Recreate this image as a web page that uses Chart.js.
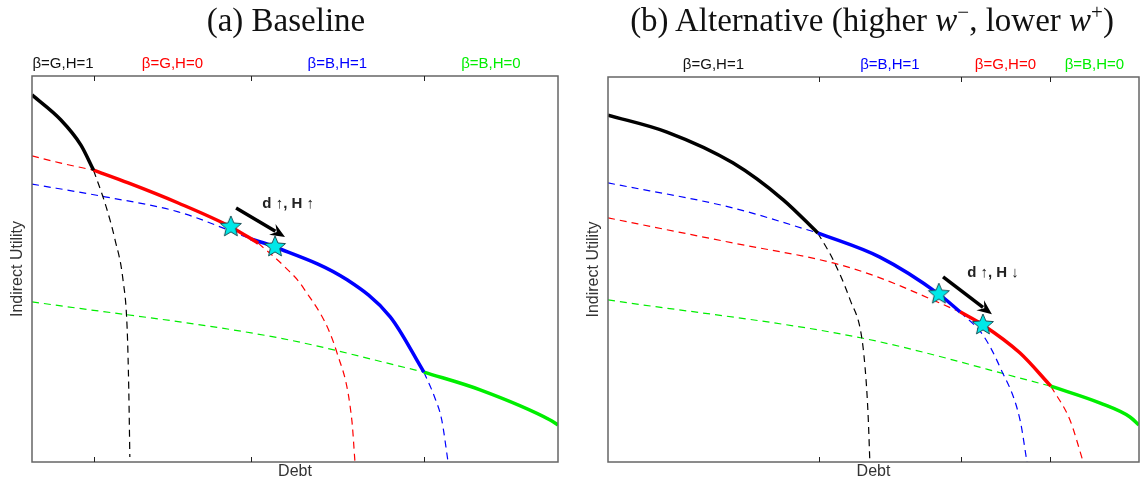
<!DOCTYPE html>
<html>
<head>
<meta charset="utf-8">
<script src="https://cdn.jsdelivr.net/npm/chart.js@4.4.0/dist/chart.umd.min.js"></script>
<style>
body{margin:0;background:#fff;width:1142px;height:489px;overflow:hidden;position:relative}
.box{position:absolute;top:0;width:572px;height:489px}
.title{position:absolute;top:0;height:40px;line-height:40px;font-family:"Liberation Serif",serif;font-size:33px;color:#111;text-align:center;z-index:2;white-space:nowrap}
.title sup{font-size:21px;line-height:0}
</style>
</head>
<body>
<div class="box" style="left:0"><canvas id="chartA" width="572" height="489"></canvas></div>
<div class="box" style="left:570px"><canvas id="chartB" width="572" height="489"></canvas></div>
<div class="title" style="left:0;width:572px">(a) Baseline</div>
<div class="title" style="left:586px;width:572px">(b) Alternative (higher <i>w</i><sup>−</sup>, lower <i>w</i><sup>+</sup>)</div>
<script>
// ---- (a) Baseline ----
const aBoundaries = [11.8, 41.6, 74.5];
const aRegionLabels = ['β=G,H=1', 'β=G,H=0', 'β=B,H=1', 'β=B,H=0'];
const aRegionColors = ['#111', '#ff0000', '#0000ff', '#00ee00'];

const aBlackSolidX = [0, 5.5, 9.3, 11.7];
const aBlackSolidY = [95.1, 88.6, 82.1, 75.6];
const aBlackDashX = [11.7, 14.1, 15.8, 17.3, 18.1, 18.4, 18.6];
const aBlackDashY = [75.6, 66.1, 57.5, 47.2, 34.2, 18.7, 1.3];
const aRedDashX1 = [0, 5.3, 11.7];
const aRedDashY1 = [79.3, 77.5, 75.6];
const aRedSolidX = [11.7, 18.3, 27.8, 37.8, 43.0];
const aRedSolidY = [75.6, 72.3, 67.1, 60.9, 56.7];
const aRedDashX2 = [43.0, 48.1, 51.5, 58.0, 60.8, 61.4];
const aRedDashY2 = [56.7, 50.5, 45.3, 28.2, 10.9, 0];
const aBlueDashX1 = [0, 13.9, 27.8, 41.6];
const aBlueDashY1 = [72.0, 68.7, 64.8, 57.8];
const aBlueSolidX = [41.6, 46.2, 59.9, 68.1, 74.5];
const aBlueSolidY = [57.8, 55.7, 47.2, 37.6, 23.3];
const aBlueDashX2 = [74.5, 76.6, 77.9, 79.1];
const aBlueDashY2 = [23.3, 16.6, 10.9, 0];
const aGreenDashX = [0, 47.1, 74.5];
const aGreenDashY = [41.5, 32.1, 23.3];
const aGreenSolidX = [74.5, 85.2, 98.5, 100];
const aGreenSolidY = [23.3, 18.7, 10.9, 9.6];
const aStarX = [37.8, 46.2];
const aStarY = [60.9, 55.7];
const aArrowX = [38.8, 48.1];
const aArrowY = [65.8, 58.3];
const aNote = 'd ↑, H ↑';
const aNoteAt = [48.7, 66.8];

// ---- (b) Alternative ----
const bBoundaries = [39.7, 66.5, 83.2];
const bRegionLabels = ['β=G,H=1', 'β=B,H=1', 'β=G,H=0', 'β=B,H=0'];
const bRegionColors = ['#111', '#0000ff', '#ff0000', '#00ee00'];

const bBlackSolidX = [0, 11.1, 23.5, 33.0, 39.5];
const bBlackSolidY = [90.1, 85.7, 77.7, 68.1, 59.5];
const bBlackDashX = [39.5, 42.4, 45.6, 47.8, 48.6, 49.0, 49.3];
const bBlackDashY = [59.5, 52.5, 42.1, 32.2, 21.3, 11.7, 0.5];
const bBlueDashX1 = [0, 23.5, 39.5];
const bBlueDashY1 = [72.5, 66.0, 59.5];
const bBlueSolidX = [39.5, 51.2, 62.3, 66.3];
const bBlueSolidY = [59.5, 53.2, 43.6, 39.0];
const bBlueDashX2 = [66.3, 70.6, 73.8, 77.6, 78.9];
const bBlueDashY2 = [39.0, 33.0, 24.7, 10.9, 0];
const bRedDashX1 = [0, 23.5, 42.4, 50.7, 66.3];
const bRedDashY1 = [63.4, 56.9, 51.7, 48.1, 39.0];
const bRedSolidX = [66.3, 70.6, 77.6, 83.4];
const bRedSolidY = [39.0, 35.6, 28.3, 19.7];
const bRedDashX2 = [83.4, 87.0, 89.5];
const bRedDashY2 = [19.7, 10.9, 0];
const bGreenDashX = [0, 47.8, 83.4];
const bGreenDashY = [42.1, 32.2, 19.7];
const bGreenSolidX = [83.4, 92.7, 98.3, 100];
const bGreenSolidY = [19.7, 15.3, 11.7, 9.6];
const bStarX = [62.3, 70.6];
const bStarY = [43.6, 35.6];
const bArrowX = [63.1, 72.3];
const bArrowY = [48.1, 38.4];
const bNote = 'd ↑, H ↓';
const bNoteAt = [72.5, 49.1];

function pts(xs, ys) {
  return xs.map((x, i) => ({x: x, y: ys[i]}));
}

function solid(xs, ys, color) {
  return {data: pts(xs, ys), borderColor: color, borderWidth: 3.5, pointRadius: 0, order: 2,
    cubicInterpolationMode: 'monotone', fill: false};
}
function dashed(xs, ys, color) {
  return {data: pts(xs, ys), borderColor: color, borderWidth: 1.2, borderDash: [7, 5], pointRadius: 0, order: 3,
    cubicInterpolationMode: 'monotone', fill: false};
}

// filled five point star used as point style
function makeStar(r) {
  const c = document.createElement('canvas');
  c.width = c.height = 2 * r + 4;
  const g = c.getContext('2d');
  const cx = r + 2, cy = r + 2;
  g.beginPath();
  for (let i = 0; i < 10; i++) {
    const rr = i % 2 === 0 ? r : r * 0.45;
    const a = -Math.PI / 2 + i * Math.PI / 5;
    g.lineTo(cx + rr * Math.cos(a), cy + rr * Math.sin(a));
  }
  g.closePath();
  g.fillStyle = '#00e8e8';
  g.fill();
  g.strokeStyle = '#1b4f55';
  g.lineWidth = 1;
  g.stroke();
  return c;
}
const starImg = makeStar(11);

function framePlugin(bounds, arrowX, arrowY, note, noteAt) {
  return {
    id: 'frame',
    afterDraw(chart) {
      const ctx = chart.ctx;
      const a = chart.chartArea;
      const xs = chart.scales.x, ys = chart.scales.y;
      ctx.save();
      // box
      ctx.strokeStyle = '#666';
      ctx.lineWidth = 1.5;
      ctx.strokeRect(a.left, a.top, a.right - a.left, a.bottom - a.top);
      // inward ticks at region boundaries
      ctx.strokeStyle = '#222';
      ctx.lineWidth = 1;
      bounds.forEach(b => {
        const px = Math.round(xs.getPixelForValue(b)) + 0.5;
        ctx.beginPath();
        ctx.moveTo(px, a.bottom); ctx.lineTo(px, a.bottom - 5);
        ctx.moveTo(px, a.top); ctx.lineTo(px, a.top + 5);
        ctx.stroke();
      });
      // arrow
      const x0 = xs.getPixelForValue(arrowX[0]), y0 = ys.getPixelForValue(arrowY[0]);
      const x1 = xs.getPixelForValue(arrowX[1]), y1 = ys.getPixelForValue(arrowY[1]);
      const ang = Math.atan2(y1 - y0, x1 - x0);
      const hl = 16;
      ctx.strokeStyle = '#000';
      ctx.fillStyle = '#000';
      ctx.lineWidth = 3.5;
      ctx.beginPath();
      ctx.moveTo(x0, y0);
      ctx.lineTo(x1 - hl * 0.7 * Math.cos(ang), y1 - hl * 0.7 * Math.sin(ang));
      ctx.stroke();
      ctx.beginPath();
      ctx.moveTo(x1, y1);
      ctx.lineTo(x1 - hl * Math.cos(ang - 0.4), y1 - hl * Math.sin(ang - 0.4));
      ctx.lineTo(x1 - hl * 0.6 * Math.cos(ang), y1 - hl * 0.6 * Math.sin(ang));
      ctx.lineTo(x1 - hl * Math.cos(ang + 0.4), y1 - hl * Math.sin(ang + 0.4));
      ctx.closePath();
      ctx.fill();
      // note
      ctx.font = 'bold 15px "Liberation Sans", Arial, sans-serif';
      ctx.fillStyle = '#222';
      ctx.textAlign = 'center';
      ctx.textBaseline = 'middle';
      ctx.fillText(note, xs.getPixelForValue(noteAt[0]), ys.getPixelForValue(noteAt[1]));
      ctx.restore();
    }
  };
}

function buildChart(id, datasets, bounds, labels, colors, pad, yWidth, yTitlePad, arrowX, arrowY, note, noteAt) {
  const centers = [];
  const edges = [0].concat(bounds, [100]);
  for (let i = 0; i < labels.length; i++) centers.push((edges[i] + edges[i + 1]) / 2);
  const axisFont = {family: '"Liberation Sans", Arial, sans-serif', size: 16};
  return new Chart(document.getElementById(id), {
    type: 'line',
    data: {datasets: datasets},
    options: {
      responsive: false,
      animation: false,
      devicePixelRatio: 1,
      layout: {padding: pad, autoPadding: false},
      plugins: {legend: {display: false}, tooltip: {enabled: false}},
      scales: {
        x: {
          type: 'linear', min: 0, max: 100,
          ticks: {display: false},
          grid: {display: false, drawTicks: false},
          border: {display: false},
          title: {display: true, text: 'Debt', color: '#333', font: axisFont, padding: {top: 0, bottom: 8}},
          afterFit: s => { s.height = 27; s.paddingLeft = 0; s.paddingRight = 0; }
        },
        xTop: {
          type: 'linear', position: 'top', min: 0, max: 100,
          afterBuildTicks: s => { s.ticks = centers.map(v => ({value: v})); },
          ticks: {
            autoSkip: false, maxRotation: 0, padding: 3,
            callback: (v, i) => labels[i],
            color: c => colors[c.index],
            font: {family: '"Liberation Sans", Arial, sans-serif', size: 15}
          },
          grid: {display: false, drawTicks: false},
          border: {display: false},
          afterFit: s => { s.height = 30; s.paddingLeft = 0; s.paddingRight = 0; }
        },
        y: {
          type: 'linear', min: 0, max: 100,
          ticks: {display: false},
          grid: {display: false, drawTicks: false},
          border: {display: false},
          title: {display: true, text: 'Indirect Utility', color: '#333', font: axisFont, padding: {top: yTitlePad, bottom: 0}},
          afterFit: s => { s.width = yWidth; }
        }
      }
    },
    plugins: [framePlugin(bounds, arrowX, arrowY, note, noteAt)]
  });
}

const starsA = {data: pts(aStarX, aStarY), showLine: false, pointStyle: starImg, pointRadius: 11, order: 1};
const starsB = {data: pts(bStarX, bStarY), showLine: false, pointStyle: starImg, pointRadius: 11, order: 1};

buildChart('chartA', [
  starsA,
  solid(aBlackSolidX, aBlackSolidY, '#000'),
  solid(aRedSolidX, aRedSolidY, '#ff0000'),
  solid(aBlueSolidX, aBlueSolidY, '#0000ff'),
  solid(aGreenSolidX, aGreenSolidY, '#00ee00'),
  dashed(aBlackDashX, aBlackDashY, '#000'),
  dashed(aRedDashX1, aRedDashY1, '#ff0000'),
  dashed(aRedDashX2, aRedDashY2, '#ff0000'),
  dashed(aBlueDashX1, aBlueDashY1, '#0000ff'),
  dashed(aBlueDashX2, aBlueDashY2, '#0000ff'),
  dashed(aGreenDashX, aGreenDashY, '#00ee00')
], aBoundaries, aRegionLabels, aRegionColors, {top: 46, right: 14, bottom: 0, left: 0}, 32, 8,
  aArrowX, aArrowY, aNote, aNoteAt);

buildChart('chartB', [
  starsB,
  solid(bBlackSolidX, bBlackSolidY, '#000'),
  solid(bBlueSolidX, bBlueSolidY, '#0000ff'),
  solid(bRedSolidX, bRedSolidY, '#ff0000'),
  solid(bGreenSolidX, bGreenSolidY, '#00ee00'),
  dashed(bBlackDashX, bBlackDashY, '#000'),
  dashed(bBlueDashX1, bBlueDashY1, '#0000ff'),
  dashed(bBlueDashX2, bBlueDashY2, '#0000ff'),
  dashed(bRedDashX1, bRedDashY1, '#ff0000'),
  dashed(bRedDashX2, bRedDashY2, '#ff0000'),
  dashed(bGreenDashX, bGreenDashY, '#00ee00')
], bBoundaries, bRegionLabels, bRegionColors, {top: 47, right: 3, bottom: 0, left: 0}, 38, 14,
  bArrowX, bArrowY, bNote, bNoteAt);
</script>
</body>
</html>
